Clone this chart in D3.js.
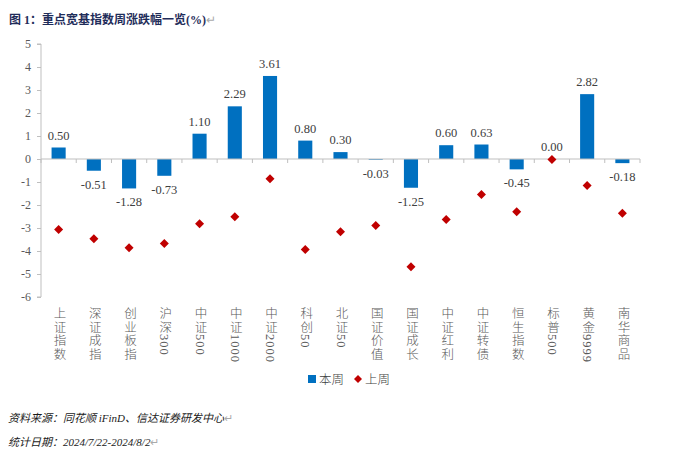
<!DOCTYPE html>
<html><head><meta charset="utf-8">
<script src="https://cdn.jsdelivr.net/npm/d3@7"></script>
<style>
body{margin:0;background:#fff;}
svg{display:block;}
</style></head>
<body><svg id="c" width="684" height="451"></svg>
<script>
const categories = ["上证指数","深证成指","创业板指","沪深300","中证500","中证1000","中证2000","科创50","北证50","国证价值","国证成长","中证红利","中证转债","恒生指数","标普500","黄金9999","南华商品"];
const thisWeek = [0.50,-0.51,-1.28,-0.73,1.10,2.29,3.61,0.80,0.30,-0.03,-1.25,0.60,0.63,-0.45,0.00,2.82,-0.18];
const lastWeek = [-3.07,-3.47,-3.86,-3.67,-2.81,-2.51,-0.86,-3.93,-3.16,-2.89,-4.68,-2.63,-1.54,-2.29,-0.02,-1.15,-2.36];
const yTicks = [5,4,3,2,1,0,-1,-2,-3,-4,-5,-6];
const seriesNames = ["本周","上周"];

const svg = d3.select("#c");
const serif = "'Liberation Serif','Times New Roman','Noto Sans CJK SC',serif";
const cjk = "'Liberation Serif','Noto Sans CJK SC',sans-serif";
const hy = s => s.replace("\u2212", "-");
const L = 41, R = 640, T = 44, B = 297;
const x = d3.scaleBand().domain(categories).range([L, R]).paddingInner(0.6).paddingOuter(0.3);
const xb = d3.scaleBand().domain(categories).range([L, R]);
const y = d3.scaleLinear().domain([-6, 5]).range([B, T]);

// title
svg.append("text").attr("x", 9).attr("y", 24)
  .attr("font-family", "'Liberation Serif','Noto Sans CJK SC',serif").attr("font-weight", "bold")
  .attr("font-size", 12).attr("fill", "#1F2D5A")
  .text("图 1：重点宽基指数周涨跌幅一览(%)")
  .append("tspan").attr("fill", "#aaa").attr("font-weight", "normal").text("↵");

// y axis
const ya = svg.append("g").attr("transform", `translate(${L},0)`)
  .call(d3.axisLeft(y).tickValues(yTicks).tickSize(4).tickPadding(6).tickFormat(d => hy(d3.format("d")(d))));
ya.select(".domain").attr("stroke", "#BFBFBF").attr("d", `M-4,${y(5)}H0V${y(-6)}H-4`);
ya.selectAll(".tick line").attr("stroke", "#BFBFBF");
ya.selectAll(".tick text").attr("font-family", serif).attr("font-size", 12).attr("fill", "#595959");

// bars
svg.append("g").selectAll("rect").data(thisWeek).join("rect")
  .attr("x", (d, i) => x(categories[i]))
  .attr("width", x.bandwidth())
  .attr("y", d => y(Math.max(0, d)))
  .attr("height", d => Math.abs(y(d) - y(0)))
  .attr("fill", "#0070C0");

// zero axis with ticks at boundaries
const zg = svg.append("g");
zg.append("line").attr("x1", L).attr("x2", R).attr("y1", y(0)).attr("y2", y(0)).attr("stroke", "#BFBFBF");
const bounds = categories.map(c => xb(c)).concat([R]);
zg.selectAll("line.t").data(bounds).join("line").attr("class", "t")
  .attr("x1", d => d).attr("x2", d => d).attr("y1", y(0)).attr("y2", y(0) + 4).attr("stroke", "#BFBFBF");

// bar labels
svg.append("g").selectAll("text").data(thisWeek).join("text")
  .attr("x", (d, i) => xb(categories[i]) + xb.bandwidth() / 2)
  .attr("y", d => d >= 0 ? y(d) - 8 : y(d) + 18)
  .attr("text-anchor", "middle").attr("font-family", serif).attr("font-size", 12.5).attr("fill", "#404040")
  .text(d => hy(d3.format(".2f")(d)));

// diamonds
const dia = "M0,-4.5L4.5,0L0,4.5L-4.5,0Z";
svg.append("g").selectAll("path").data(lastWeek).join("path")
  .attr("d", dia)
  .attr("transform", (d, i) => `translate(${xb(categories[i]) + xb.bandwidth() / 2},${y(d)})`)
  .attr("fill", "#C00000");

// category labels vertical
svg.append("g").selectAll("text").data(categories).join("text")
  .attr("x", c => xb(c) + xb.bandwidth() / 2)
  .attr("y", 307)
  .attr("font-family", cjk).attr("font-size", 12.5).attr("font-weight", 300).attr("fill", "#595959")
  .style("writing-mode", "vertical-rl").style("text-orientation", "mixed")
  .attr("letter-spacing", 1)
  .text(c => c);

// legend
const lg = svg.append("g");
lg.append("rect").attr("x", 308).attr("y", 375).attr("width", 8).attr("height", 8).attr("fill", "#0070C0");
lg.append("text").attr("x", 319).attr("y", 384).attr("font-family", cjk).attr("font-size", 12.5).attr("font-weight", 300).attr("fill", "#404040").text(seriesNames[0]);
lg.append("path").attr("d", "M0,-4L4,0L0,4L-4,0Z").attr("transform", "translate(358,379)").attr("fill", "#C00000");
lg.append("text").attr("x", 365).attr("y", 384).attr("font-family", cjk).attr("font-size", 12.5).attr("font-weight", 300).attr("fill", "#404040").text(seriesNames[1]);

// footnotes
const foot = svg.append("g").attr("font-family", cjk).attr("font-size", 11).attr("font-style", "italic").attr("fill", "#1a1a1a");
foot.append("text").attr("x", 8).attr("y", 422).text("资料来源：同花顺 iFinD、信达证券研发中心").append("tspan").attr("fill", "#aaa").attr("font-style","normal").text("↵");
foot.append("text").attr("x", 8).attr("y", 446).text("统计日期：2024/7/22-2024/8/2").append("tspan").attr("fill", "#aaa").attr("font-style","normal").text("↵");
</script></body></html>
